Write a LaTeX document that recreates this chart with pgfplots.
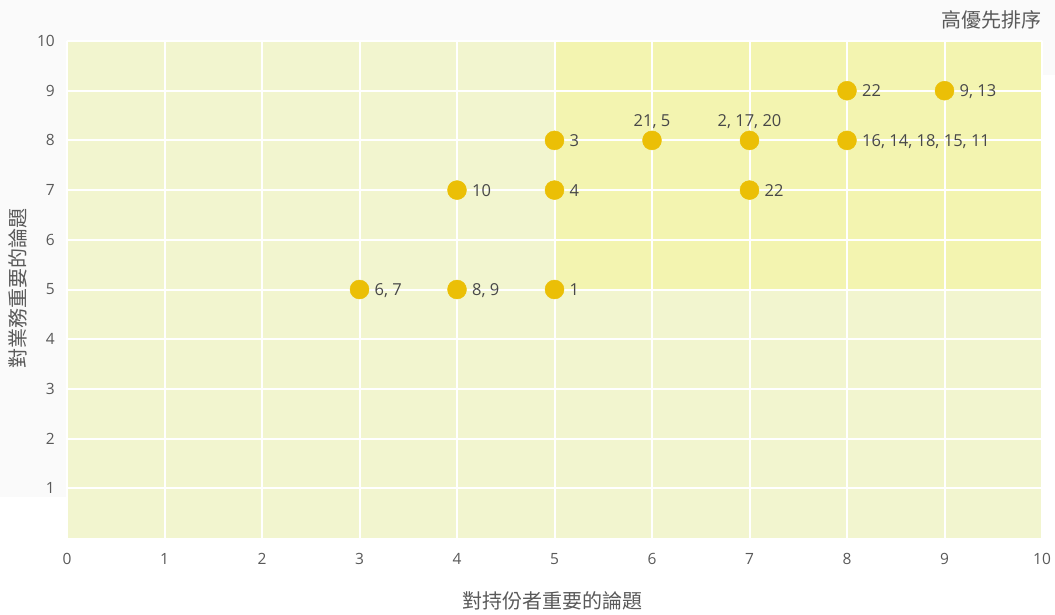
\documentclass[border=0pt]{standalone}
\usepackage{pgfplots}
\pgfplotsset{compat=1.18}
\usepackage{fontspec}
\setmainfont{Open Sans}
\newfontfamily\cjk{Noto Sans CJK TC}
\definecolor{bglight}{RGB}{242,245,207}
\definecolor{bgdark}{RGB}{243,244,176}
\definecolor{graybg}{RGB}{250,250,250}
\definecolor{dot}{RGB}{235,191,6}
\definecolor{ticktxt}{RGB}{89,89,89}
\definecolor{lbltxt}{RGB}{72,72,72}
\begin{document}
\begin{tikzpicture}
\useasboundingbox (0pt,0pt) rectangle (1055pt,614pt);
\fill[graybg] (0pt,539pt) rectangle (1055pt,614pt);
\fill[graybg] (0pt,117pt) rectangle (67pt,614pt);
\fill[bglight] (67pt,76pt) rectangle (1042pt,573pt);
\fill[bgdark] (554.5pt,324.5pt) rectangle (1042pt,573pt);
\begin{axis}[
  at={(67pt,76pt)}, anchor=south west,
  scale only axis, width=975pt, height=497pt,
  xmin=0, xmax=10, ymin=0, ymax=10,
  xtick={0,...,10}, ytick={1,...,10},
  axis line style={draw=none},
  tick style={draw=none},
  grid=major,
  grid style={white, line width=2pt},
  /pgf/number format/assume math mode=true,
  xticklabel style={font=\fontsize{15.5}{16}\selectfont, text=ticktxt, anchor=center, inner sep=0pt, yshift=-21pt},
  yticklabel style={font=\fontsize{15.5}{16}\selectfont, text=ticktxt, anchor=east, inner sep=0pt, xshift=-12pt},
  clip=false,
]
\addplot[dot, only marks, mark=*, mark size=9.5pt, mark options={fill=dot, draw=dot},
  point meta=explicit symbolic, nodes near coords,
  every node near coord/.append style={anchor=base west, inner sep=0pt, xshift=15pt, yshift=-6pt,
    font=\fontsize{16.5}{17}\selectfont, text=lbltxt}]
coordinates {
 (3,5) [{6, 7}]
 (4,5) [{8, 9}]
 (5,5) [1]
 (4,7) [10]
 (5,7) [4]
 (5,8) [3]
 (7,7) [22]
 (8,8) [{16, 14, 18, 15, 11}]
 (8,9) [22]
 (9,9) [{9, 13}]
};
\addplot[dot, only marks, mark=*, mark size=9.5pt, mark options={fill=dot, draw=dot},
  point meta=explicit symbolic, nodes near coords,
  every node near coord/.append style={anchor=base, inner sep=0pt, yshift=14pt,
    font=\fontsize{16.5}{17}\selectfont, text=lbltxt}]
coordinates {
 (6,8) [{21, 5}]
 (7,8) [{2, 17, 20}]
};
\end{axis}
\node[anchor=center, text=ticktxt, font=\cjk\fontsize{20}{20}\selectfont] at (552pt,13pt) {對持份者重要的論題};
\node[anchor=center, rotate=90, text=ticktxt, font=\cjk\fontsize{20}{20}\selectfont] at (18pt,326pt) {對業務重要的論題};
\node[anchor=east, inner sep=0pt, text=ticktxt, font=\cjk\fontsize{20}{20}\selectfont] at (1042pt,594pt) {高優先排序};
\end{tikzpicture}
\end{document}
